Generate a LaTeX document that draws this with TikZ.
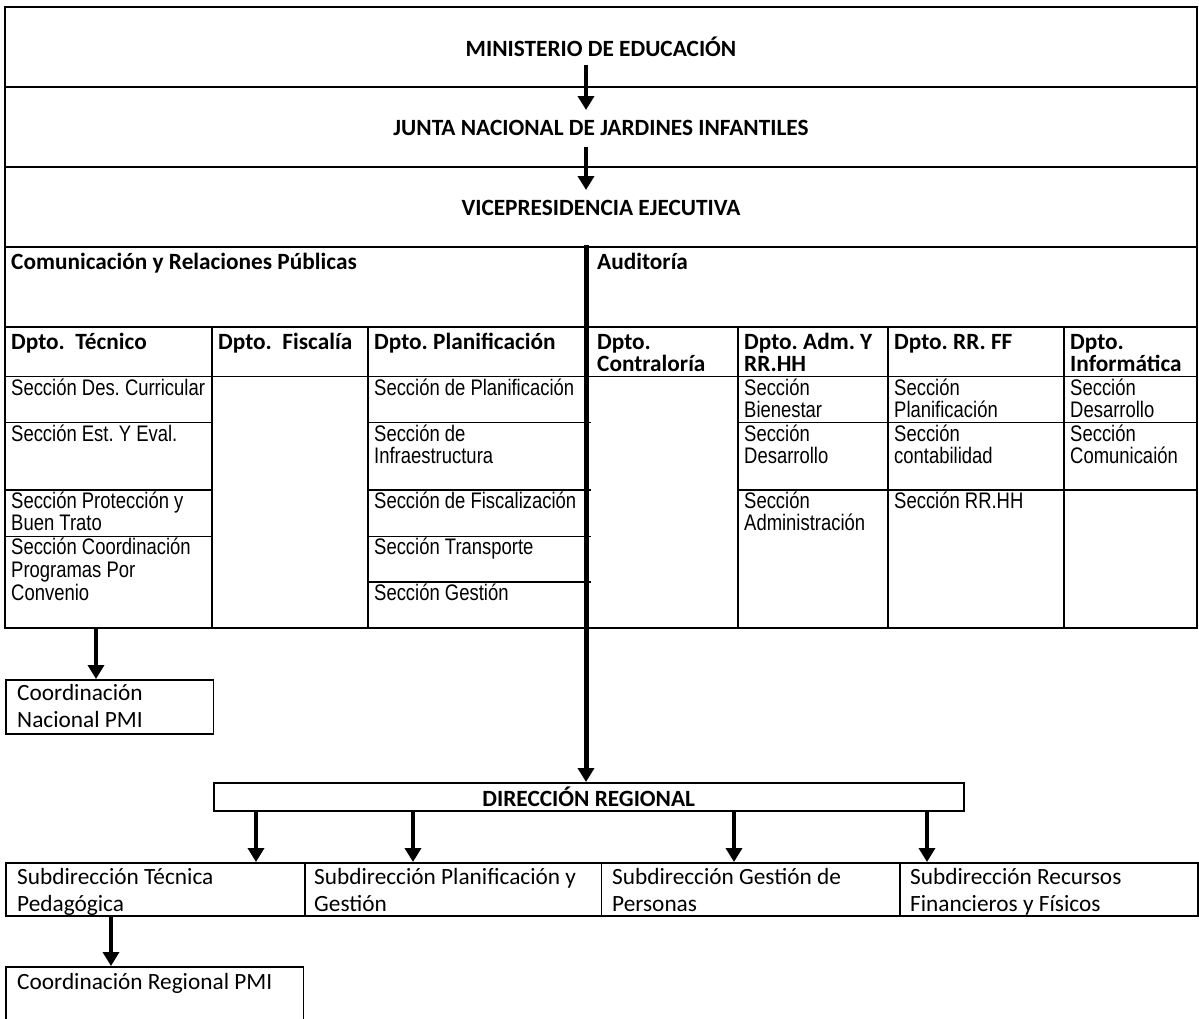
\documentclass[tikz,border=0pt]{standalone}
\usepackage{fontspec}
\setmainfont{Carlito}
\newfontfamily\narrowfont[FakeStretch=0.82]{Liberation Sans}
\usetikzlibrary{arrows.meta}
\frenchspacing
\tikzset{
  tline/.style={line width=1.5pt},
  arr/.style={line width=4.5pt, -{Triangle[width=16pt,length=14pt]}},
  mainarr/.style={line width=5pt, -{Triangle[width=16pt,length=14pt]}},
  title/.style={font=\fontsize{23.3}{21.5}\selectfont\bfseries, inner sep=0pt, anchor=base},
  hdr/.style={font=\fontsize{23.3}{21.5}\selectfont\bfseries, inner sep=0pt, align=left, anchor=base west},
  sec/.style={font=\narrowfont\fontsize{22.5}{22.8}\selectfont, inner sep=0pt, align=left, anchor=base west},
  regtxt/.style={font=\fontsize{23.3}{26.5}\selectfont, inner sep=0pt, align=left, anchor=base west},
  box/.style={draw, line width=1.5pt, anchor=north west, inner sep=0pt},
}
\begin{document}
\begin{tikzpicture}[x=1pt,y=-1pt]
\useasboundingbox (0,0) rectangle (1199,1018);
\clip (0,0) rectangle (1199,1018);

% ---------- upper table ----------
\draw[tline] (5,7) rectangle (1197,628);
\draw[tline] (5,87) -- (1197,87);
\draw[tline] (5,167) -- (1197,167);
\draw[line width=2.2pt] (5,247) -- (1197,247);
\draw[tline] (5,327) -- (1197,327);
\draw[tline] (5,376.7) -- (1197,376.7);
\foreach \x in {212,368,738,888,1064} \draw[tline] (\x,327) -- (\x,628);
\foreach \y in {422.7,490,536.7} \draw[tline] (5,\y) -- (212,\y);
\foreach \y in {422.7,490,536.7,582} \draw[tline] (368,\y) -- (591,\y);
\foreach \y in {422.7,490} \draw[tline] (738,\y) -- (1197,\y);

% titles
\node[title] (min) at (601,56) {MINISTERIO DE EDUCACIÓN};
\node[title] (junta) at (601,135.5) {JUNTA NACIONAL DE JARDINES INFANTILES};
\node[title] (vice) at (601,215.5) {VICEPRESIDENCIA EJECUTIVA};

% second level headers
\node[hdr] (com) at (11,269.5) {Comunicación y Relaciones Públicas};
\node[hdr] (aud) at (597,269.5) {Auditoría};

% departments (anchor = baseline of the last line)
\node[hdr] (dtec) at (11,349.5) {Dpto.\ \ Técnico};
\node[hdr] (dfis) at (218,349.5) {Dpto.\ \ Fiscalía};
\node[hdr] (dpla) at (374,349.5) {Dpto. Planificación};
\node[hdr] (dcon) at (597,371) {Dpto.\\Contraloría};
\node[hdr] (dadm) at (744,371) {Dpto. Adm. Y\\RR.HH};
\node[hdr] (drff) at (894,349.5) {Dpto. RR. FF};
\node[hdr] (dinf) at (1070,371) {Dpto.\\Informática};

% sections (anchor = baseline of the last line)
\node[sec] (tec1) at (11,395) {Sección Des. Curricular};
\node[sec] (tec2) at (11,441) {Sección Est. Y Eval.};
\node[sec] (tec3) at (11,530.8) {Sección Protección y\\Buen Trato};
\node[sec] (tec4) at (11,600) {Sección Coordinación\\Programas Por\\Convenio};

\node[sec] (pla1) at (374,395) {Sección de Planificación};
\node[sec] (pla2) at (374,463.8) {Sección de\\Infraestructura};
\node[sec] (pla3) at (374,508) {Sección de Fiscalización};
\node[sec] (pla4) at (374,554.5) {Sección Transporte};
\node[sec] (pla5) at (374,600) {Sección Gestión};

\node[sec] (adm1) at (744,417.8) {Sección\\Bienestar};
\node[sec] (adm2) at (744,463.8) {Sección\\Desarrollo};
\node[sec] (adm3) at (744,530.8) {Sección\\Administración};

\node[sec] (rff1) at (894,417.8) {Sección\\Planificación};
\node[sec] (rff2) at (894,463.8) {Sección\\contabilidad};
\node[sec] (rff3) at (894,508) {Sección RR.HH};

\node[sec] (inf1) at (1070,417.8) {Sección\\Desarrollo};
\node[sec] (inf2) at (1070,463.8) {Sección\\Comunicaión};

% ---------- lower boxes ----------
\node[box, minimum width=207.5pt, minimum height=54pt] (coordnac) at (5,679) {};
\node[regtxt] (coordnact) at (17,727) {Coordinación\\Nacional PMI};

\node[box, minimum width=750pt, minimum height=28pt,
      font=\fontsize{23.3}{22}\selectfont\bfseries] (dirreg) at (213,782) {DIRECCIÓN REGIONAL};

\node[box, minimum width=299pt, minimum height=53pt] (sub1) at (5,862) {};
\node[box, minimum width=296.5pt, minimum height=53pt] (sub2) at (304,862) {};
\node[box, minimum width=298.5pt, minimum height=53pt] (sub3) at (600.5,862) {};
\node[box, minimum width=298pt, minimum height=53pt] (sub4) at (899,862) {};
\node[regtxt] (sub1t) at (17,911) {Subdirección Técnica\\Pedagógica};
\node[regtxt] (sub2t) at (314,911) {Subdirección Planificación y\\Gestión};
\node[regtxt] (sub3t) at (612,911) {Subdirección Gestión de\\Personas};
\node[regtxt] (sub4t) at (910,911) {Subdirección Recursos\\Financieros y Físicos};

\node[box, minimum width=297.5pt, minimum height=90pt] (coordreg) at (5,966) {};
\node[regtxt] (coordregt) at (17,989.5) {Coordinación Regional PMI};

% ---------- connectors ----------
\coordinate (a1s) at (586,65);  \coordinate (a1e) at (586,110);
\coordinate (a2s) at (586,147); \coordinate (a2e) at (586,190);
\coordinate (ms) at (586,245);
\coordinate (ts) at (96,628);
\coordinate (x1) at (256,0); \coordinate (x2) at (413,0);
\coordinate (x3) at (734,0); \coordinate (x4) at (927,0);
\coordinate (x5) at (111,0);

\draw[arr] (a1s) -- (a1e);
\draw[arr] (a2s) -- (a2e);
\draw[mainarr] (ms) -- (ms |- dirreg.north);
\draw[arr] (ts) -- (ts |- coordnac.north);
\draw[arr] (dirreg.south -| x1) -- (sub1.north -| x1);
\draw[arr] (dirreg.south -| x2) -- (sub2.north -| x2);
\draw[arr] (dirreg.south -| x3) -- (sub3.north -| x3);
\draw[arr] (dirreg.south -| x4) -- (sub4.north -| x4);
\draw[arr] (sub1.south -| x5) -- (coordreg.north -| x5);
\end{tikzpicture}
\end{document}
